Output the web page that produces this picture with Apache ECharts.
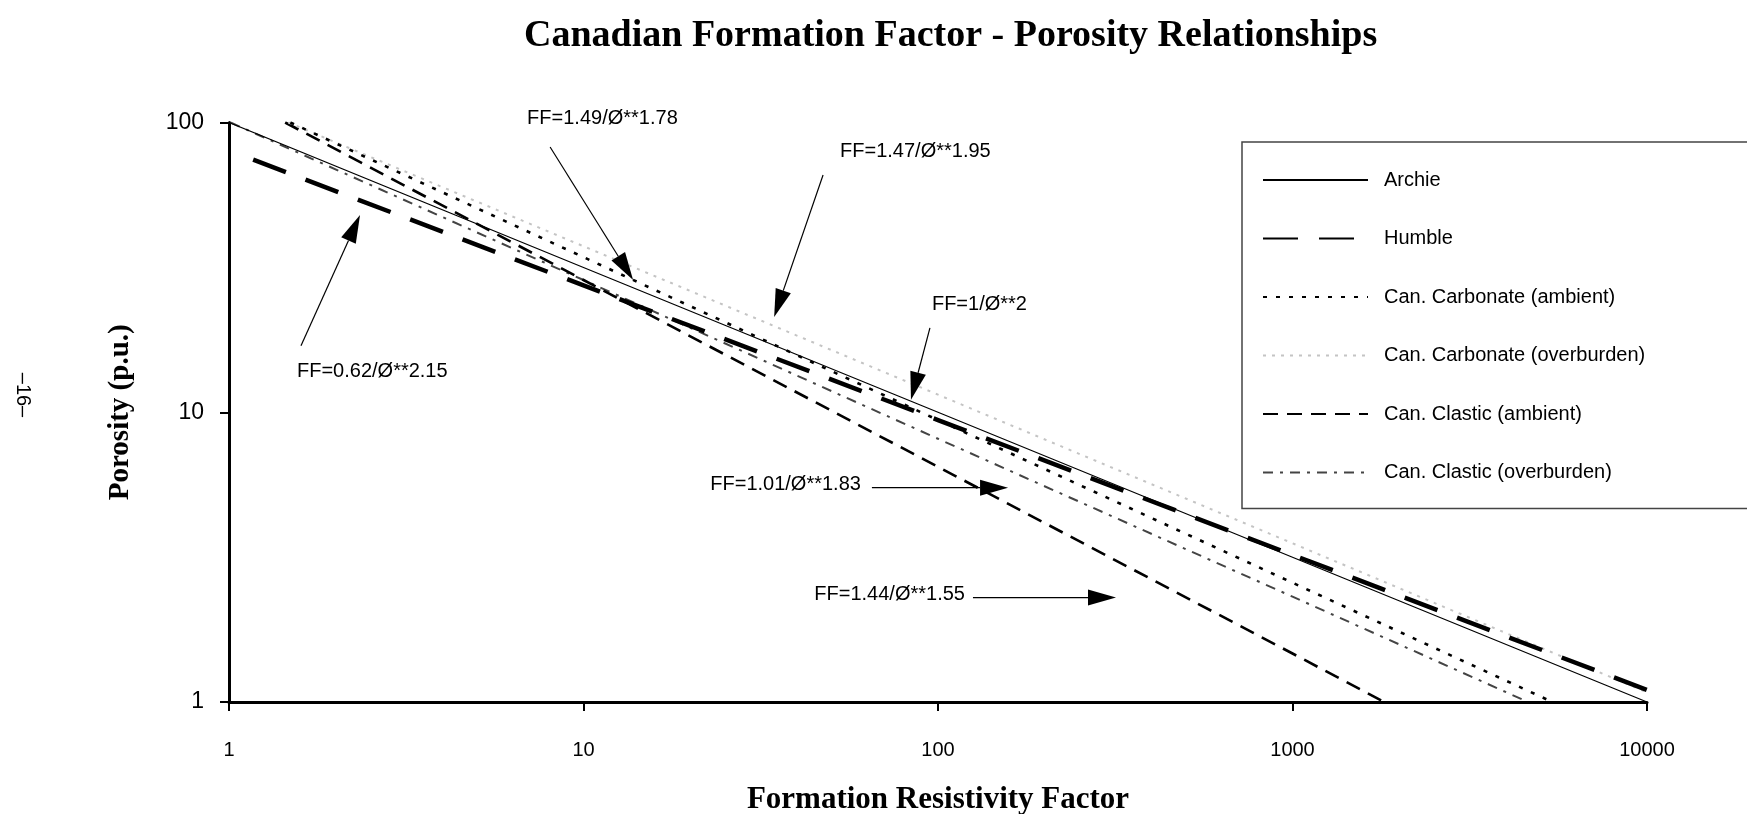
<!DOCTYPE html>
<html>
<head>
<meta charset="utf-8">
<script src="https://cdn.jsdelivr.net/npm/echarts@6/dist/echarts.min.js"></script>
<style>html,body{margin:0;padding:0;background:#fff;}#c{width:1747px;height:814px;}</style>
</head>
<body>
<div id="c"></div>
<script>
// ---- data ----
const seriesNames = ['Archie', 'Humble', 'Can. Carbonate (ambient)', 'Can. Carbonate (overburden)', 'Can. Clastic (ambient)', 'Can. Clastic (overburden)'];
const archieFF   = [1, 10, 100, 1000, 10000];
const archiePor  = [100, 31.6, 10, 3.16, 1];
const humbleFF   = [1.17, 10, 100, 1000, 10000];
const humblePor  = [74.4, 27.4, 9.4, 3.22, 1.1];
const carbAmbFF  = [1.49, 10, 100, 1000, 5410];
const carbAmbPor = [100, 34.3, 9.4, 2.58, 1];
const carbOvbFF  = [1.47, 10, 100, 1000, 10000];
const carbOvbPor = [100, 37.4, 11.5, 3.53, 1.08];
const clasAmbFF  = [1.44, 10, 100, 1000, 1813];
const clasAmbPor = [100, 28.6, 6.48, 1.47, 1];
const clasOvbFF  = [1.01, 10, 100, 1000, 4617];
const clasOvbPor = [100, 28.6, 8.1, 2.31, 1];
const xTickLabels = ['1', '10', '100', '1000', '10000'];
const yTickLabels = ['1', '10', '100'];
const annoTexts = ['FF=1.49/Ø**1.78', 'FF=1.47/Ø**1.95', 'FF=1/Ø**2', 'FF=0.62/Ø**2.15', 'FF=1.01/Ø**1.83', 'FF=1.44/Ø**1.55'];
const annoTail = [[8.05, 82.3], [47.4, 65.9], [94.9, 19.56], [1.596, 16.96], [65.1, 5.49], [125.5, 2.293]];
const annoTip  = [[13.8, 28.6], [34.5, 21.3], [83.9, 11.04], [2.342, 47.97], [157.6, 5.49], [317.8, 2.293]];

// ---- layout / style (kept separate) ----
const annoLayout = [
  {dx: -23, dy: -29, align: 'left'},
  {dx: 17, dy: -23, align: 'left'},
  {dx: 2, dy: -23, align: 'left'},
  {dx: -4, dy: 26, align: 'left'},
  {dx: -11, dy: -3, align: 'right'},
  {dx: -8, dy: -3, align: 'right'}
];
const styles = [
  {color: '#000', width: 1.2, type: 'solid'},
  {color: '#000', width: 4.5, type: [35, 21]},
  {color: '#000', width: 2.6, type: [4, 9]},
  {color: '#c4c4c4', width: 2, type: [3, 6]},
  {color: '#000', width: 2.6, type: [15, 9]},
  {color: '#444', width: 2, type: [10, 7, 3, 7]}
];
const xs = [archieFF, humbleFF, carbAmbFF, carbOvbFF, clasAmbFF, clasOvbFF];
const ys = [archiePor, humblePor, carbAmbPor, carbOvbPor, clasAmbPor, clasOvbPor];

const chart = echarts.init(document.getElementById('c'), null, {renderer: 'canvas'});
const sans = '"Liberation Sans", Arial, sans-serif';
const serif = '"Liberation Serif", "Times New Roman", serif';

const series = seriesNames.map((n, i) => ({
  name: n,
  type: 'line',
  symbol: 'none',
  silent: true,
  z: 10 - i,
  data: xs[i].map((x, k) => [x, ys[i][k]]),
  lineStyle: {color: styles[i].color, width: styles[i].width, type: styles[i].type},
  itemStyle: {color: styles[i].color}
}));

chart.setOption({
  animation: false,
  backgroundColor: '#fff',
  title: {
    text: 'Canadian Formation Factor - Porosity Relationships',
    left: 519, top: 12,
    textStyle: {fontFamily: serif, fontWeight: 'bold', fontSize: 38, color: '#000'}
  },
  grid: {left: 229, right: 100, top: 122.5, bottom: 112, containLabel: false, outerBoundsMode: 'none'},
  xAxis: {
    type: 'log', logBase: 10, min: 1, max: 10000,
    name: 'Formation Resistivity Factor', nameLocation: 'middle', nameGap: 82,
    nameTextStyle: {fontFamily: serif, fontWeight: 'bold', fontSize: 31, color: '#000'},
    axisLine: {lineStyle: {color: '#000', width: 3}},
    axisTick: {length: 9, lineStyle: {color: '#000', width: 2}},
    axisLabel: {margin: 38, fontFamily: sans, fontSize: 20, color: '#000',
      formatter: v => xTickLabels[Math.round(Math.log10(v))]},
    splitLine: {show: false}, minorTick: {show: false}
  },
  yAxis: {
    type: 'log', logBase: 10, min: 1, max: 100,
    name: 'Porosity (p.u.)', nameLocation: 'middle', nameGap: 94, nameRotate: 90,
    nameTextStyle: {fontFamily: serif, fontWeight: 'bold', fontSize: 29, color: '#000'},
    axisLine: {lineStyle: {color: '#000', width: 3}},
    axisTick: {length: 9, lineStyle: {color: '#000', width: 2}},
    axisLabel: {margin: 25, fontFamily: sans, fontSize: 23, color: '#000',
      formatter: v => yTickLabels[Math.round(Math.log10(v))]},
    splitLine: {show: false}, minorTick: {show: false}
  },
  legend: {
    orient: 'vertical', left: 1242, top: 142,
    padding: [28, 300, 26, 20],
    itemWidth: 105, itemHeight: 20, itemGap: 38.5,
    borderColor: '#444', borderWidth: 1.5,
    selectedMode: false,
    itemStyle: {opacity: 0, borderWidth: 0},
    textStyle: {fontFamily: sans, fontSize: 20, color: '#000', padding: [0, 0, 0, 11]},
    data: seriesNames
  },
  series: series
});

// annotations: arrows and formula labels placed via the chart's own scales
const g = [];
annoTexts.forEach((t, i) => {
  const p0 = chart.convertToPixel({gridIndex: 0}, annoTail[i]);
  const p1 = chart.convertToPixel({gridIndex: 0}, annoTip[i]);
  const dx = p1[0] - p0[0], dy = p1[1] - p0[1];
  const len = Math.sqrt(dx * dx + dy * dy);
  const ux = dx / len, uy = dy / len;
  const hl = 28, hw = 8;
  const bx = p1[0] - ux * hl, by = p1[1] - uy * hl;
  g.push({type: 'line', silent: true, z: 50,
    shape: {x1: p0[0], y1: p0[1], x2: bx, y2: by},
    style: {stroke: '#000', lineWidth: 1.2}});
  g.push({type: 'polygon', silent: true, z: 50,
    shape: {points: [[p1[0], p1[1]], [bx - uy * hw, by + ux * hw], [bx + uy * hw, by - ux * hw]]},
    style: {fill: '#000'}});
  const L = annoLayout[i];
  g.push({type: 'text', silent: true, z: 50,
    x: p0[0] + L.dx, y: p0[1] + L.dy,
    style: {text: t, font: '20px ' + sans, fill: '#000', align: L.align, verticalAlign: 'middle'}});
});
g.push({type: 'text', silent: true, x: 23, y: 395, rotation: -Math.PI / 2,
  style: {text: '–16–', font: '20px ' + sans, fill: '#000', align: 'center', verticalAlign: 'middle'}});
chart.setOption({graphic: g});
</script>
</body>
</html>
